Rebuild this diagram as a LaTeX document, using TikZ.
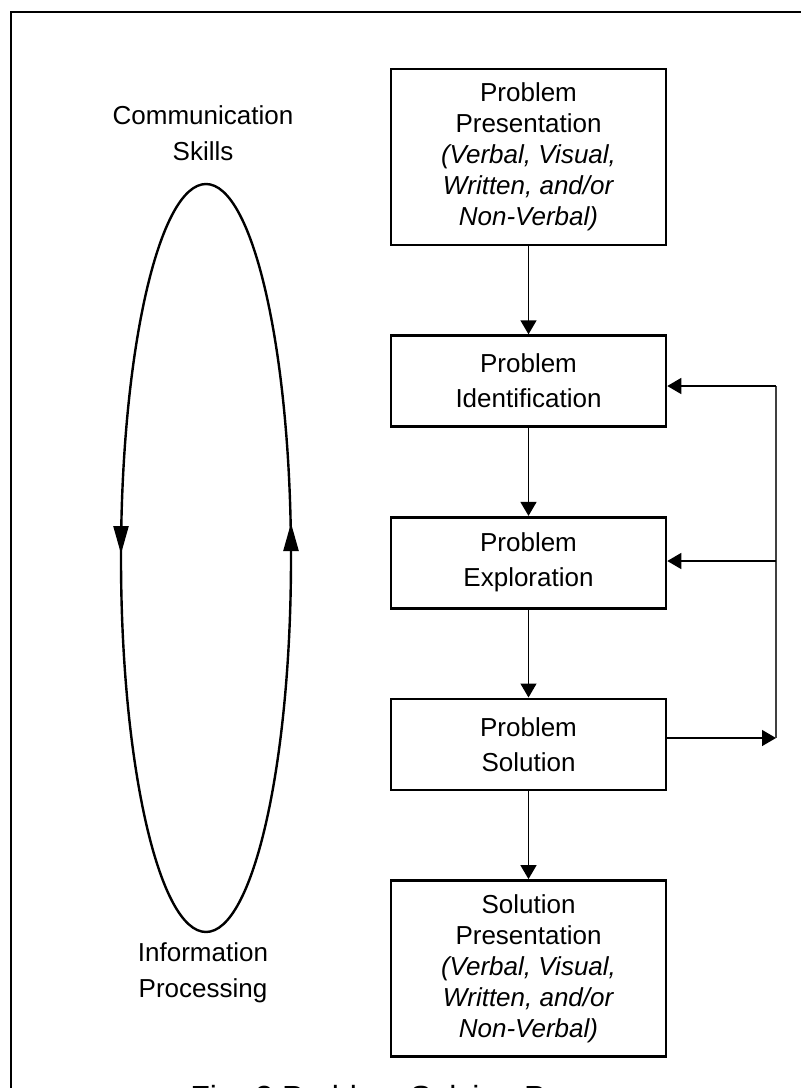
\documentclass[tikz,border=0pt]{standalone}
\usepackage{fontspec}
\setmainfont{Liberation Sans}
\usetikzlibrary{arrows.meta, positioning, shapes.geometric}

\begin{document}
\begin{tikzpicture}[
        x=0.5pt, y=-0.5pt,
        node distance=44pt,
        stepbox/.style={draw, line width=1.3pt, align=center, minimum width=137.5pt, minimum height=45.5pt, inner sep=0pt, font=\fontsize{13}{17.5}\selectfont},
        bigbox/.style={stepbox, minimum height=88pt, font=\fontsize{13}{15.5}\selectfont},
        lbl/.style={align=center, inner sep=0pt, font=\fontsize{13}{18}\selectfont},
        arr/.style={-{Triangle[length=7pt, width=8pt]}, line width=0.7pt},
        loopArr/.style={-{Triangle[length=14pt, width=7.5pt]}, line width=1.2pt}
    ]
    \useasboundingbox (0,0) rectangle (801,1088);
    \clip (0,0) rectangle (801,1088);
    % frame
    \draw[line width=1.2pt] (11,1120) -- (11,12) -- (830,12);

    % left cycle
    \node[draw, ellipse, line width=1.2pt, inner sep=0pt, minimum width=85pt, minimum height=374pt] (cyc) at (206,558) {};
    \node[lbl, above=11pt of cyc, xshift=-1.5pt] (comm) {Communication\\Skills};
    \node[lbl, below=4.5pt of cyc, xshift=-1.5pt] (info) {Information\\Processing};
    \draw[loopArr] (121,524) -- (121,554);
    \draw[loopArr] (291,553) -- (291,523);

    % process steps
    \node[bigbox] (pres) at (528.5,157) {Problem\\Presentation\\\textit{(Verbal, Visual,}\\\textit{Written, and/or}\\\textit{Non-Verbal)}};
    \node[stepbox, below=of pres] (ident) {Problem\\Identification};
    \node[stepbox, below=of ident] (expl) {Problem\\Exploration};
    \node[stepbox, below=of expl] (sol) {Problem\\Solution};
    \node[bigbox, below=of sol] (solpres) {Solution\\Presentation\\\textit{(Verbal, Visual,}\\\textit{Written, and/or}\\\textit{Non-Verbal)}};

    \draw[arr] (pres) -- (ident);
    \draw[arr] (ident) -- (expl);
    \draw[arr] (expl) -- (sol);
    \draw[arr] (sol) -- (solpres);

    % feedback loop
    \coordinate (fbA) at (776,386);
    \coordinate (fbB) at (776,561);
    \coordinate (fbC) at (776,738);
    \draw[arr] (sol.east |- fbC) -- (fbC);
    \draw[line width=1pt, black!75] (fbC) -- (fbA);
    \draw[arr] (fbA) -- (fbA -| ident.east);
    \draw[arr] (fbB) -- (fbB -| expl.east);

    % caption
    \node[anchor=base, inner sep=0pt, font=\fontsize{16}{19}\selectfont] (cap) at (415,1108) {Fig. 3 Problem Solving Process};
\end{tikzpicture}
\end{document}
